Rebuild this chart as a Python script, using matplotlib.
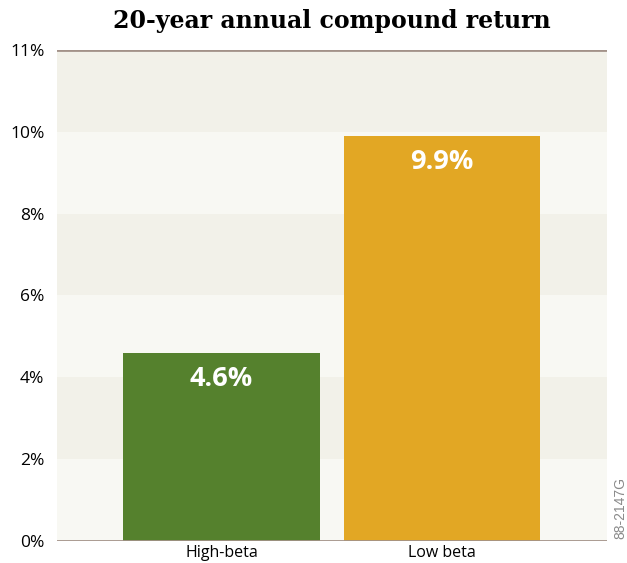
import numpy as np
import matplotlib.pyplot as plt

categories = ['High-beta', 'Low beta']
returns = [4.6, 9.9]
bar_colors = ['#55812d', '#e2a724']
ytick_vals = [0, 2, 4, 6, 8, 10, 12]
ytick_labels = ['0%', '2%', '4%', '6%', '8%', '10%', '11%']

plt.rcParams['font.family'] = ['Open Sans', 'DejaVu Sans']

fig = plt.figure(figsize=(6.27, 5.63), dpi=100)
ax = fig.add_axes([0.0909, 0.0391, 0.8771, 0.8721])

# alternating background bands
for i in range(6):
    c = '#f8f8f3' if i % 2 == 0 else '#f2f1e9'
    ax.axhspan(2 * i, 2 * i + 2, color=c, lw=0, zorder=0)

x = np.arange(len(categories))
ax.bar(x, returns, width=0.893, color=bar_colors, zorder=2)
for xi, v in zip(x, returns):
    ax.text(xi, v - 0.33, f'{v}%', color='white', fontsize=19.5, fontweight='bold',
            ha='center', va='top', zorder=3)

ax.axhline(12, color='#a39289', lw=2, zorder=3)
ax.axhline(0, color='#a39289', lw=2, zorder=3)

ax.set_xlim(-0.746, 1.748)
ax.set_ylim(0, 12)
ax.set_xticks(x)
ax.set_xticklabels(categories, fontsize=11.5)
ax.set_yticks(ytick_vals)
ax.set_yticklabels(ytick_labels, fontsize=12.5)
ax.tick_params(length=0)
ax.tick_params(axis='y', pad=9)
ax.tick_params(axis='x', pad=3)
for s in ax.spines.values():
    s.set_visible(False)

fig.text(0.53, 0.962, '20-year annual compound return', family='DejaVu Serif',
         fontweight='bold', fontsize=17, ha='center', va='center')
fig.text(0.99, 0.098, '88-2147G', rotation=90, color='#8a8a8a', fontsize=10,
         ha='center', va='center', family='Liberation Sans')

fig.savefig('out.png', dpi=100)
